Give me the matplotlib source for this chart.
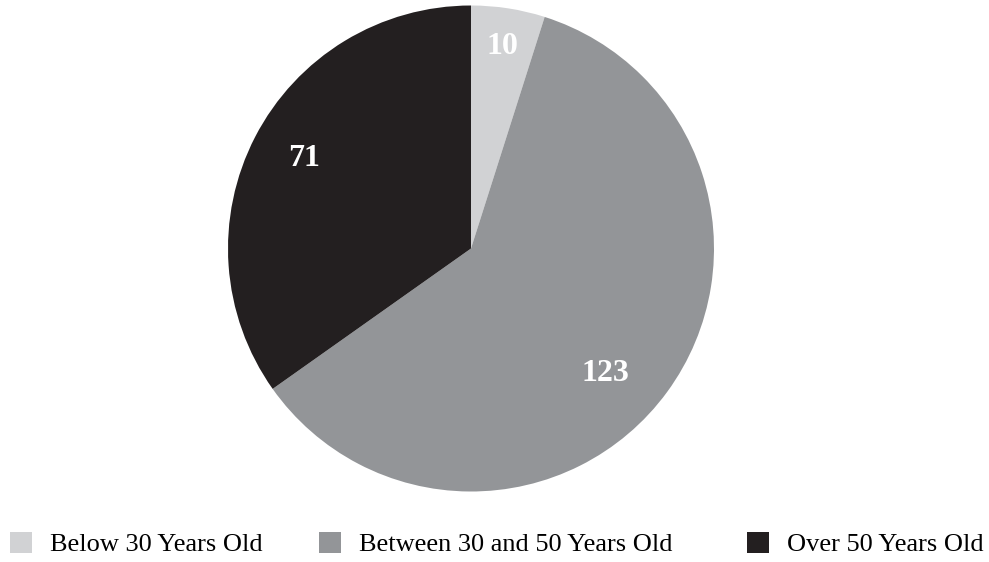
import matplotlib.pyplot as plt
import numpy as np
from matplotlib.patches import Patch

plt.rcParams['font.family'] = ['Liberation Serif', 'DejaVu Serif']

# data
categories = ['Below 30 Years Old', 'Between 30 and 50 Years Old', 'Over 50 Years Old']
counts = [10, 123, 71]
colors = ['#d1d2d4', '#939598', '#231f20']
label_dist = [0.84, 0.755, 0.78]
label_turn = [0, -6.8, -1.0]   # degrees, nudges the value labels off the mid line
legend_x = [10, 319, 747]      # left edge of each legend entry, px

fig = plt.figure(figsize=(9.89, 5.62), dpi=100)
ax = fig.add_axes([228 / 989, 70 / 562, 486 / 989, 487 / 562])

wedges, _ = ax.pie(counts, colors=colors, startangle=90, counterclock=False,
                   radius=1, wedgeprops=dict(linewidth=0))

for w, n, d, t in zip(wedges, counts, label_dist, label_turn):
    ang = np.deg2rad((w.theta1 + w.theta2) / 2 + t)
    ax.text(d * np.cos(ang), d * np.sin(ang), str(n), ha='center', va='center',
            fontsize=23, fontweight='bold', color='white')

ax.set_xlim(-1, 1)
ax.set_ylim(-1, 1)
ax.set_aspect('equal')
ax.axis('off')

# one legend per entry so the uneven spacing of the original is kept
for cat, c, lx in zip(categories, colors, legend_x):
    fig.legend([Patch(facecolor=c, edgecolor='none')], [cat], loc='center left',
               bbox_to_anchor=(lx / 989, 1 - 544 / 562), frameon=False, fontsize=19,
               handlelength=0.85, handleheight=0.85, handletextpad=0.65,
               borderaxespad=0, borderpad=0)

fig.savefig('out.png', dpi=100)
